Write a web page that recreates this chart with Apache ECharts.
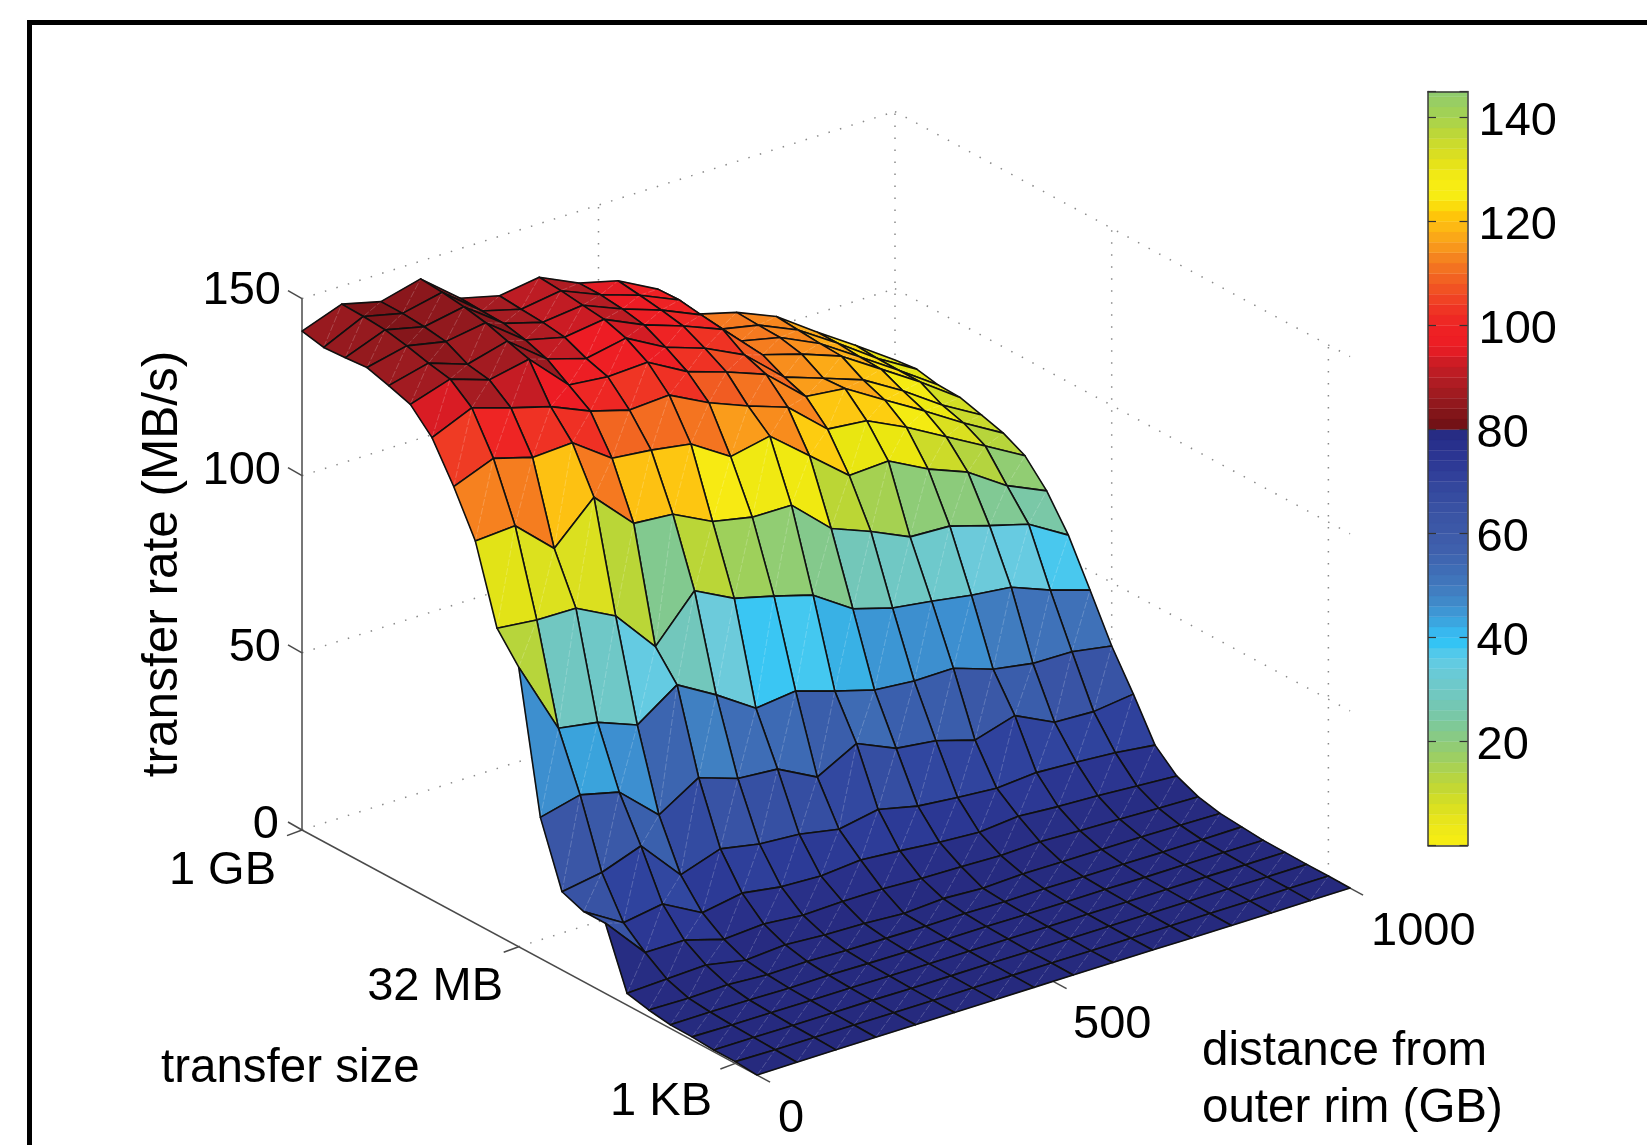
<!DOCTYPE html>
<html>
<head>
<meta charset="utf-8">
<title>transfer rate surface</title>
<style>html,body{margin:0;padding:0;background:#fff}#c{width:1647px;height:1145px}</style>
<script src="https://cdn.jsdelivr.net/npm/echarts@6/dist/echarts.min.js"></script>
</head>
<body>
<div id="c"></div>
<script>
// ---------- data ----------
const distanceGB = [0,67,133,200,267,333,400,467,533,600,667,733,800,867,933,1000];
const sizeTicks = [['1 GB',0],['32 MB',10],['1 KB',20]];
const distanceTicks = [0,500,1000];
const rateTicks = [0,50,100,150];
const colorbarTicks = [20,40,60,80,100,120,140];

const row00=[140.8,144.9,142.1,145.0,136.0,133.2,134.9,129.7,126.9,121.0,110.4,107.4,102.7,94.9,87.6,79.9];
const row01=[139.5,144.7,142.1,144.5,135.7,132.7,134.4,129.7,126.1,121.2,109.4,107.1,102.2,94.9,87.2,80.6];
const row02=[139.9,144.2,141.6,143.7,135.5,132.3,133.6,129.0,125.2,120.3,109.4,106.9,101.7,94.4,87.1,79.4];
const row03=[140.4,143.0,140.7,142.5,134.1,131.4,132.9,127.8,124.0,119.5,108.8,105.5,101.4,94.2,87.1,79.2];
const row04=[138.6,141.4,137.6,140.6,132.0,128.7,130.9,124.8,121.0,115.6,105.8,102.0,98.0,91.4,83.9,77.5];
const row05=[136.6,140.2,136.5,138.8,128.0,126.8,127.4,121.2,117.6,113.4,103.6,102.4,95.6,89.0,82.1,75.7];
const row06=[130.5,135.4,131.9,128.7,123.9,120.7,121.4,115.7,111.3,107.4,97.7,96.6,91.2,85.0,78.9,72.6];
const row07=[120.0,124.4,121.2,121.8,113.9,112.7,110.9,103.8,106.1,97.0,87.9,88.5,82.7,78.3,71.0,66.0];
const row08=[107.9,108.7,98.8,109.7,98.8,97.9,92.3,90.0,89.9,79.8,75.4,70.4,69.9,66.5,63.4,56.8];
const row09=[86.6,85.4,85.2,79.5,67.3,79.6,73.9,71.0,67.8,60.4,57.1,55.5,53.7,52.4,48.1,44.6];
const row10=[78.9,58.1,56.3,52.0,59.8,53.5,46.2,47.5,44.0,40.8,39.8,39.9,36.1,34.2,34.0,32.1];
const row11=[39.8,42.6,39.9,29.9,36.9,33.2,32.3,26.5,32.5,27.6,26.2,22.9,26.3,20.9,20.4,21.8];
const row12=[22.1,24.0,28.0,16.3,20.1,18.0,17.2,15.1,17.2,14.6,13.5,12.6,13.5,12.9,12.1,10.7];
const row13=[19.8,13.1,14.9,8.9,10.9,9.2,8.7,9.7,8.8,7.7,7.0,8.0,7.2,6.7,6.0,5.3];
const row14=[19.8,8.0,8.0,4.7,5.5,4.5,4.8,4.8,4.3,4.1,3.7,4.1,3.7,3.4,3.0,2.7];
const row15=[3.3,3.8,4.3,2.1,2.9,2.2,1.9,1.2,1.9,1.3,1.8,1.7,1.7,1.7,1.5,1.3];
const row16=[1.9,1.7,2.0,1.3,1.5,1.1,1.0,0.9,1.0,0.8,0.9,0.8,0.8,0.7,0.7,0.8];
const row17=[1.0,1.1,1.0,0.8,0.9,0.7,0.6,0.6,0.6,0.5,0.5,0.5,0.4,0.4,0.4,0.3];
const row18=[0.9,0.7,0.7,0.6,0.6,0.5,0.4,0.4,0.4,0.3,0.3,0.3,0.3,0.3,0.2,0.2];
const row19=[0.5,0.5,0.4,0.4,0.4,0.3,0.3,0.3,0.2,0.2,0.2,0.2,0.2,0.2,0.1,0.1];
const row20=[0.5,0.3,0.3,0.3,0.2,0.2,0.2,0.2,0.2,0.1,0.1,0.1,0.1,0.1,0.1,0.1];
const row21=[0.0,0.1,0.1,0.1,0.1,0.1,0.1,0.1,0.1,0.1,0.1,0.0,0.0,0.0,0.0,0.0];
const rates=[row00,row01,row02,row03,row04,row05,row06,row07,row08,row09,row10,
             row11,row12,row13,row14,row15,row16,row17,row18,row19,row20,row21];

// surface palette: rate -> colour
const surfaceRates=[0,3,6,10,14,18,22,28,33,37,40,43,46,49,53,56,60,68,74,80,85,88,92,96,100,104,108,112,116,121,125,129,132,135,140,145];
const surfaceColors=['#262a7e','#272c82','#2a338e','#2d3d99','#30459f','#3650a3','#3a56a6','#3a60ad','#3e6cb5','#4080c2','#3d90d0','#3aa6de','#38c6f4','#50c9ec','#6bcbdf','#6fc8c8','#72c7bb','#84c98b','#9ed05a','#bcd634','#dae020','#e9e610','#f7ec13','#fdd20f','#fdb913','#fa9a1b','#f6801f','#f37021','#f15a22','#ef3324','#ee2224','#ed1c24','#c41c24','#a81c22','#961a1f','#7c1418'];

// colour bar palette
const barValues=[0,4,8,12,16,20,24,28,32,36,39,41,44,48,52,56,60,64,68,72,76,79.9,80,84,88,92,96,100,104,108,112,116,119,122,124,128,132,136,140,145];
const barColors=['#f8ee12','#ece71a','#d6df22','#bdd638','#a3d05a','#8ccb7c','#7bc8a0','#72c7bb','#6ccad0','#5fcbe6','#34c4f4','#38b8ef','#3d9dd9','#4182c4','#3f70b8','#3f62ae','#3d5aa8','#3a53a4','#354a9f','#2f3d98','#293290','#262a80','#6b1014','#8a161b','#a81c22','#c41c24','#ed1c24','#ee2224','#ef3a24','#f15a22','#f47a20','#f9a01b','#fdb913','#ffcb05','#f7ec13','#f7ec13','#e0e01c','#c4d932','#a5d24f','#8fcc70'];
const barLevels=[0,2,4,6,8,10,12,14,16,18,20,22,24,26,28,30,32,34,36,38,40,42,44,46,48,50,52,54,56,58,60,62,64,66,68,70,72,74,76,78,80,82,84,86,88,90,92,94,96,98,100,102,104,106,108,110,112,114,116,118,120,122,124,126,128,130,132,134,136,138,140,142,144];

// ---------- helpers ----------
function hex(c){return [parseInt(c.slice(1,3),16),parseInt(c.slice(3,5),16),parseInt(c.slice(5,7),16)];}
function sample(v,xs,cs){
  if(v<=xs[0])return cs[0];
  for(let k=1;k<xs.length;k++){
    if(v<=xs[k]){
      const t=(v-xs[k-1])/(xs[k]-xs[k-1]),a=hex(cs[k-1]),b=hex(cs[k]);
      return 'rgb('+a.map((q,n)=>Math.round(q+(b[n]-q)*t)).join(',')+')';
    }
  }
  return cs[cs.length-1];
}
// oblique view of the box: (distance GB, size row, rate MB/s) -> plane position
const view={ox:302,oy:830,dx:0.593,dy:-0.187,rx:21.67,ry:11.67,zy:-3.543};
function project(d,r,z){
  return [view.ox+d*view.dx+r*view.rx, view.oy+d*view.dy+r*view.ry+z*view.zy];
}
const lastRow=rates.length-1, maxD=distanceGB[distanceGB.length-1], topZ=rateTicks[rateTicks.length-1];

// ---------- walls and floor (dotted) ----------
const wallLines=[];
rateTicks.forEach(z=>{
  wallLines.push([0,0,z,maxD,0,z]);
  wallLines.push([maxD,0,z,maxD,lastRow,z]);
});
[500,1000].forEach(d=>{
  wallLines.push([d,0,0,d,0,topZ]);
  wallLines.push([d,0,0,d,lastRow,0]);
});
[10,20].forEach(r=>{
  wallLines.push([maxD,r,0,maxD,r,topZ]);
  wallLines.push([0,r,0,maxD,r,0]);
});

// ---------- surface faces, far to near ----------
const faces=[];
for(let i=distanceGB.length-2;i>=0;i--){
  for(let j=0;j<lastRow;j++) faces.push([i,j]);
}

const dom=document.getElementById('c');
const chart=echarts.init(dom,null,{renderer:'canvas',width:1647,height:1145});

function seg(api,a,b,style){
  const p=api.coord(project(a[0],a[1],a[2])),q=api.coord(project(b[0],b[1],b[2]));
  return {type:'line',shape:{x1:p[0],y1:p[1],x2:q[0],y2:q[1]},style:style};
}
const axisStroke={stroke:'#4a4a4a',lineWidth:1.5,fill:null};

const fontFamily='"Liberation Sans", Arimo, Helvetica, Arial, sans-serif';
function label(text,x,y,align,rotation,size){
  return {type:'text',x:x,y:y,rotation:rotation||0,silent:true,z:50,
    style:{text:text,fill:'#000',font:(size||47)+'px '+fontFamily,align:align||'left',verticalAlign:'middle'}};
}

chart.setOption({
  animation:false,
  backgroundColor:'#fff',
  tooltip:{show:false},
  grid:[
    {left:0,top:0,width:1647,height:1145,show:false},
    {left:1428,top:91.5,width:39.5,height:754,show:false}
  ],
  xAxis:[
    {gridIndex:0,type:'value',min:0,max:1647,show:false},
    {gridIndex:1,type:'value',min:0,max:1,position:'bottom',z:5,axisLine:{show:true,onZero:false,lineStyle:{color:'#3a3a3a',width:1.5}},axisTick:{show:false},axisLabel:{show:false},splitLine:{show:false}},
    {gridIndex:1,type:'value',min:0,max:1,position:'top',z:5,axisLine:{show:true,onZero:false,lineStyle:{color:'#3a3a3a',width:1.5}},axisTick:{show:false},axisLabel:{show:false},splitLine:{show:false}}
  ],
  yAxis:[
    {gridIndex:0,type:'value',min:0,max:1145,inverse:true,show:false},
    {gridIndex:1,type:'value',min:0,max:145,interval:20,position:'right',z:5,
      axisLine:{show:true,onZero:false,lineStyle:{color:'#3a3a3a',width:1.5}},
      axisTick:{show:true,inside:true,length:8,lineStyle:{color:'#333',width:1.2}},
      axisLabel:{show:false},
      splitLine:{show:false}},
    {gridIndex:1,type:'value',min:0,max:145,interval:20,position:'left',z:5,
      axisLine:{show:true,onZero:false,lineStyle:{color:'#3a3a3a',width:1.5}},
      axisTick:{show:true,inside:true,length:8,lineStyle:{color:'#333',width:1.2}},
      axisLabel:{show:false},splitLine:{show:false}}
  ],
  series:[
    {name:'walls',type:'custom',xAxisIndex:0,yAxisIndex:0,clip:false,silent:true,z:1,
      data:wallLines,
      renderItem:(params,api)=>{
        const L=wallLines[params.dataIndex];
        return seg(api,[L[0],L[1],L[2]],[L[3],L[4],L[5]],
          {stroke:'#8a8a8a',lineWidth:1.5,lineDash:[1.5,10.5],fill:null});
      }},
    {name:'axes',type:'custom',xAxisIndex:0,yAxisIndex:0,clip:false,silent:true,z:2,
      data:[0],
      renderItem:(params,api)=>{
        const ch=[];
        ch.push(seg(api,[0,0,0],[0,0,topZ],axisStroke));
        ch.push(seg(api,[0,0,0],[0,lastRow,0],axisStroke));
        rateTicks.forEach(z=>{
          const p=api.coord(project(0,0,z));
          ch.push({type:'line',shape:{x1:p[0],y1:p[1],x2:p[0]-14,y2:p[1]-8},style:axisStroke});
        });
        sizeTicks.forEach(t=>{
          const p=api.coord(project(0,t[1],0));
          ch.push({type:'line',shape:{x1:p[0],y1:p[1],x2:p[0]-15,y2:p[1]+5.6},style:axisStroke});
        });
        distanceTicks.forEach(d=>{
          const p=api.coord(project(d,lastRow,0));
          ch.push({type:'line',shape:{x1:p[0],y1:p[1],x2:p[0]+13,y2:p[1]+7},style:axisStroke});
        });
        return {type:'group',children:ch};
      }},
    {name:'transfer rate',type:'custom',xAxisIndex:0,yAxisIndex:0,clip:false,silent:true,z:3,
      progressive:0,
      data:faces,
      renderItem:(params,api)=>{
        const f=faces[params.dataIndex],i=f[0],j=f[1];
        const corner=(a,b)=>api.coord(project(distanceGB[a],b,rates[b][a]));
        const A=corner(i,j),B=corner(i+1,j),C=corner(i+1,j+1),D=corner(i,j+1);
        const col=sample(rates[j+1][i],surfaceRates,surfaceColors);
        return {type:'group',children:[
          {type:'polygon',shape:{points:[A,B,C,D]},style:{fill:col,stroke:col,lineWidth:0.5}},
          {type:'line',shape:{x1:D[0],y1:D[1],x2:B[0],y2:B[1]},
            style:{stroke:'rgba(255,255,255,0.2)',lineWidth:1,lineDash:[7,2],fill:null}},
          {type:'polygon',shape:{points:[A,B,C,D]},style:{fill:null,stroke:'#101010',lineWidth:1.6,lineJoin:'round'}}
        ]};
      }},
    {name:'colour bar',type:'custom',xAxisIndex:1,yAxisIndex:1,clip:true,silent:true,z:2,
      progressive:0,
      data:barLevels,
      renderItem:(params,api)=>{
        const v=barLevels[params.dataIndex];
        const top=Math.min(v+2,145);
        const p=api.coord([0,top]),q=api.coord([1,v]);
        const col=sample((v+top)/2,barValues,barColors);
        return {type:'rect',shape:{x:p[0],y:p[1],width:q[0]-p[0],height:q[1]-p[1]},style:{fill:col,stroke:col,lineWidth:0.3}};
      }},
    {name:'colour bar labels',type:'custom',xAxisIndex:1,yAxisIndex:1,clip:false,silent:true,z:6,
      data:colorbarTicks,
      renderItem:(params,api)=>{
        const v=colorbarTicks[params.dataIndex];
        const p=api.coord([1,v]);
        return {type:'text',x:v>=100?p[0]+11:p[0]+9,y:p[1]+5,
          style:{text:String(v),fill:'#000',font:'47px '+fontFamily,align:'left',verticalAlign:'middle'}};
      }}
  ],
  graphic:[
    {type:'rect',silent:true,z:40,shape:{x:29.5,y:22.5,width:1800,height:1300},style:{fill:null,stroke:'#000',lineWidth:5}},
    label('150',281,291,'right'),
    label('100',281,471,'right'),
    label('50',281,648,'right'),
    label('0',279,825,'right'),
    label('1 GB',276,871,'right'),
    label('32 MB',503,987,'right'),
    label('1 KB',712,1102,'right'),
    label('0',778,1119,'left'),
    label('500',1073,1025,'left'),
    label('1000',1371,932,'left'),
    label('transfer size',161,1069,'left',0,47.5),
    label('distance from',1202,1052,'left',0,47.5),
    label('outer rim (GB)',1202,1109,'left',0,47.5),
    label('transfer rate (MB/s)',163,564,'center',Math.PI/2,49.5)
  ]
});
</script>
</body>
</html>
